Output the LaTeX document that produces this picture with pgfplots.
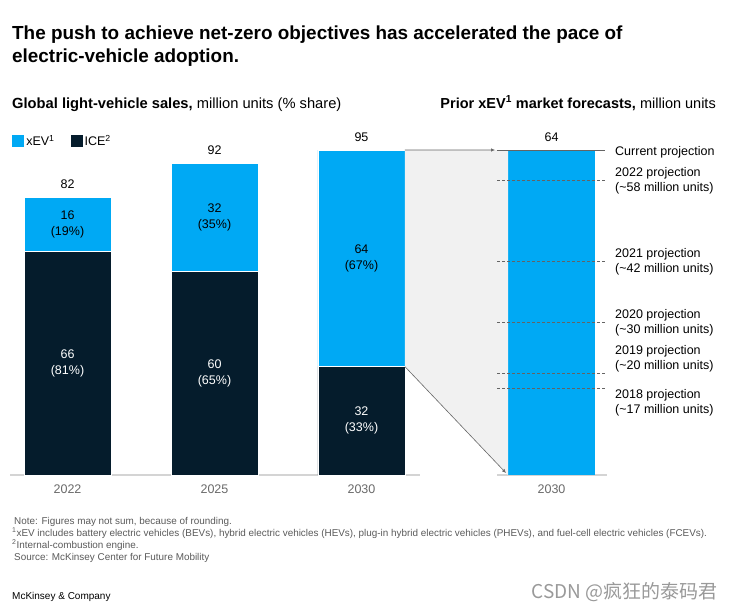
\documentclass[border=0pt]{standalone}
\usepackage{pgfplots}
\pgfplotsset{compat=1.18}
\usepackage{fontspec}
\setmainfont{Liberation Sans}
\newfontfamily\cjk{Noto Sans CJK SC}
\usetikzlibrary{arrows.meta}
\definecolor{xev}{RGB}{0,169,244}
\definecolor{ice}{RGB}{5,28,44}
\definecolor{areagray}{RGB}{241,241,241}
\definecolor{axgray}{RGB}{212,212,212}
\definecolor{tickgray}{RGB}{105,105,105}
\definecolor{notegray}{RGB}{90,90,90}
\definecolor{projgray}{RGB}{100,100,100}
\tikzset{vlab/.style={font=\fontsize{12.5}{16}\selectfont, align=center},
  plab/.style={font=\fontsize{12.5}{15}\selectfont, align=left, inner sep=0pt},
  note/.style={anchor=base west, inner sep=0pt, font=\fontsize{9.9}{11}\selectfont, text=notegray}}
\pgfplotsset{rightax/.style={
  at={(497pt,-475pt)}, anchor=south west, scale only axis,
  width=110pt, height=325pt,
  xmin=-54.5, xmax=55.5, ymin=0, ymax=64,
  clip=false}}
\begin{document}
\begin{tikzpicture}[x=1pt,y=1pt]
\path (0,0) rectangle (734,-610);
% titles
\node[anchor=base west, inner sep=0pt, font=\fontsize{18.9}{22}\selectfont\bfseries] at (12,-39.5) {The push to achieve net-zero objectives has accelerated the pace of};
\node[anchor=base west, inner sep=0pt, font=\fontsize{18.9}{22}\selectfont\bfseries] at (12,-62.5) {electric-vehicle adoption.};
\node[anchor=base west, inner sep=0pt, font=\fontsize{14.7}{17}\selectfont] at (12,-108) {\textbf{Global light-vehicle sales,} million units (\% share)};
\node[anchor=base east, inner sep=0pt, font=\fontsize{14.5}{17}\selectfont] at (716,-108) {\textbf{Prior xEV\textsuperscript{1} market forecasts,} million units};

% left axis
\begin{axis}[
  at={(10pt,-475pt)}, anchor=south west, scale only axis,
  width=410pt, height=325pt,
  xmin=-0.3912, xmax=2.398, ymin=0, ymax=96,
  ybar stacked, bar width=87pt,
  axis x line=bottom, axis y line=none,
  x axis line style={-, draw=axgray, line width=1.5pt},
  xtick={0,1,2}, xticklabels={2022,2025,2030}, major tick length=0pt,
  xticklabel style={font=\fontsize{12.5}{15}\selectfont, text=tickgray, yshift=-6pt},
  clip=false,
  legend columns=2,
  legend image code/.code={\fill[#1, draw=none] (0pt,-6pt) rectangle (12pt,6pt);},
  legend style={at={(axis description cs:0.005,1.0277)}, anchor=west, draw=none, fill=none,
    font=\fontsize{12.5}{15}\selectfont, inner sep=0pt,
    /tikz/every even column/.append style={column sep=14pt}},
]
\addlegendimage{fill=xev, draw=none}
\addlegendentry{xEV\textsuperscript{1}}
\addlegendimage{fill=ice, draw=none}
\addlegendentry{ICE\textsuperscript{2}}
\addplot[fill=ice, draw=white, line width=0.8pt, forget plot] coordinates {(0,66) (1,60) (2,32)};
\addplot[fill=xev, draw=white, line width=0.8pt, forget plot] coordinates {(0,16) (1,32) (2,64)};
\coordinate (A) at ([xshift=43.5pt]axis cs:2,96);
\coordinate (D) at ([xshift=43.5pt]axis cs:2,32);
\coordinate (i0) at (axis cs:0,33);
\coordinate (i1) at (axis cs:1,30);
\coordinate (i2) at (axis cs:2,16);
\coordinate (e0) at (axis cs:0,74);
\coordinate (e1) at (axis cs:1,76);
\coordinate (e2) at (axis cs:2,64);
\coordinate (t0) at (axis cs:0,82);
\coordinate (t1) at (axis cs:1,92);
\coordinate (t2) at (axis cs:2,96);
\end{axis}
\node[vlab, text=white] at (i0) {66\\(81\%)};
\node[vlab, text=white] at (i1) {60\\(65\%)};
\node[vlab, text=white] at (i2) {32\\(33\%)};
\node[vlab] at (e0) {16\\(19\%)};
\node[vlab] at (e1) {32\\(35\%)};
\node[vlab] at (e2) {64\\(67\%)};
\node[vlab, anchor=base, yshift=9pt] at (t0) {82};
\node[vlab, anchor=base, yshift=9pt] at (t1) {92};
\node[vlab, anchor=base, yshift=9pt] at (t2) {95};

% right axis: bar
\begin{axis}[rightax,
  ybar, bar width=87pt,
  axis x line=bottom, axis y line=none,
  x axis line style={-, draw=axgray, line width=1.5pt},
  xtick={0}, xticklabels={2030}, major tick length=0pt,
  xticklabel style={font=\fontsize{12.5}{15}\selectfont, text=tickgray, yshift=-6pt},
]
\addplot[fill=xev, draw=none] coordinates {(0,64)};
\coordinate (B) at ([xshift=-43.5pt]axis cs:0,64);
\coordinate (C) at ([xshift=-43.5pt]axis cs:0,0);
\coordinate (t3) at (axis cs:0,64);
\end{axis}
\node[vlab, anchor=base, yshift=9pt] at (t3) {64};

% connector area
\fill[areagray] (A) -- (B) -- (C) -- (D) -- cycle;

% right axis overlay: projection lines
\begin{axis}[rightax, hide axis]
\addplot[projgray, line width=0.9pt] coordinates {(-54.5,64) (53.5,64)};
\addplot[projgray, dash pattern=on 3pt off 2pt, line width=0.9pt] coordinates {(-54.5,58) (53.5,58)};
\addplot[projgray, dash pattern=on 3pt off 2pt, line width=0.9pt] coordinates {(-54.5,42) (53.5,42)};
\addplot[projgray, dash pattern=on 3pt off 2pt, line width=0.9pt] coordinates {(-54.5,30) (53.5,30)};
\addplot[projgray, dash pattern=on 3pt off 2pt, line width=0.9pt] coordinates {(-54.5,20) (53.5,20)};
\addplot[projgray, dash pattern=on 3pt off 2pt, line width=0.9pt] coordinates {(-54.5,17) (53.5,17)};
\node[plab, anchor=west] at (axis cs:63.5,63.6) {Current projection};
\node[plab, anchor=west] at (axis cs:63.5,58) {2022 projection\\(\textasciitilde58 million units)};
\node[plab, anchor=west] at (axis cs:63.5,42) {2021 projection\\(\textasciitilde42 million units)};
\node[plab, anchor=west] at (axis cs:63.5,30) {2020 projection\\(\textasciitilde30 million units)};
\node[plab, anchor=south west, yshift=1pt] at (axis cs:63.5,20) {2019 projection\\(\textasciitilde20 million units)};
\node[plab, anchor=north west, yshift=-1pt] at (axis cs:63.5,17) {2018 projection\\(\textasciitilde17 million units)};
\end{axis}

% connector arrows
\draw[black!60, line width=0.6pt, -{Latex[length=4pt,width=3.5pt]}] (A) -- ([xshift=-13pt]B);
\draw[black!60, line width=0.6pt, -{Latex[length=4pt,width=3.5pt]}] (D) -- ([xshift=-2pt,yshift=2pt]C);

% footnotes
\node[note] at (14,-524) {Note: Figures may not sum, because of rounding.};
\node[note] at (12,-536) {\textsuperscript{1}xEV includes battery electric vehicles (BEVs), hybrid electric vehicles (HEVs), plug-in hybrid electric vehicles (PHEVs), and fuel-cell electric vehicles (FCEVs).};
\node[note] at (12,-548) {\textsuperscript{2}Internal-combustion engine.};
\node[note] at (14,-560) {Source: McKinsey Center for Future Mobility};
\node[anchor=base west, inner sep=0pt, font=\fontsize{10}{12}\selectfont] at (12,-599) {McKinsey \& Company};
\node[anchor=base east, inner sep=0pt, font=\cjk\fontsize{19}{21}\selectfont, text=black!40] at (718,-598) {CSDN @疯狂的泰码君};
\end{tikzpicture}
\end{document}
